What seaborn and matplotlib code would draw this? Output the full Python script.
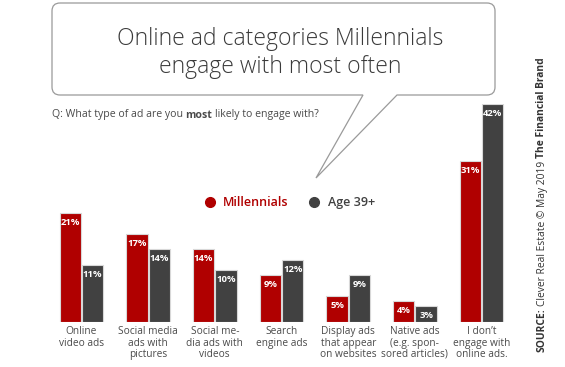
import matplotlib
matplotlib.use("Agg")
import matplotlib.pyplot as plt
import seaborn as sns
import pandas as pd
from matplotlib.path import Path
from matplotlib.patches import PathPatch
from matplotlib.lines import Line2D

categories = ["Online\nvideo ads", "Social media\nads with\npictures",
              "Social me-\ndia ads with\nvideos", "Search\nengine ads",
              "Display ads\nthat appear\non websites",
              "Native ads\n(e.g. spon-\nsored articles)",
              "I don\u2019t\nengage with\nonline ads."]
millennials = [21, 17, 14, 9, 5, 4, 31]
age39 = [11, 14, 10, 12, 9, 3, 42]
groups = ["Millennials", "Age 39+"]

RED = "#b00000"
DARK = "#414141"
GREY = "#4a4a4a"

df = pd.DataFrame({
    "category": categories * 2,
    "group": [groups[0]] * len(categories) + [groups[1]] * len(categories),
    "value": millennials + age39,
})

sns.set_theme(style="white")
plt.rcParams["font.family"] = ["Open Sans", "DejaVu Sans"]

W, H = 565, 367
fig = plt.figure(figsize=(W / 100, H / 100), dpi=100)

# overlay axes in pixel coordinates for the speech bubble and texts
ov = fig.add_axes([0, 0, 1, 1])
ov.set_xlim(0, W)
ov.set_ylim(H, 0)
ov.axis("off")

# main bar axes placed in pixel terms
ax = fig.add_axes([48 / W, 45 / H, 467 / W, 218 / H])
ax.set_facecolor("none")
sns.barplot(data=df, x="category", y="value", hue="group", ax=ax,
            palette=[RED, DARK], width=0.67, gap=0.05, legend=False,
            edgecolor="#d8d8d8", linewidth=0.8, saturation=1)
ax.set_ylim(0, 42)
ax.set_xlim(-0.5, len(categories) - 0.5)
ax.set_xlabel("")
ax.set_ylabel("")
ax.set_yticks([])
sns.despine(ax=ax, left=True, bottom=True)
ax.tick_params(axis="x", length=0, pad=3, labelsize=7.3, labelcolor=GREY)
for t in ax.get_xticklabels():
    t.set_linespacing(1.05)

for cont in ax.containers:
    ax.bar_label(cont, labels=[f"{int(v)}%" for v in cont.datavalues],
                 padding=-10, color="white", fontsize=6.8, fontweight="bold")

handles = [Line2D([], [], marker="o", ls="", color=RED, markersize=7),
           Line2D([], [], marker="o", ls="", color=DARK, markersize=7)]
fig.legend(handles, groups, loc="center", bbox_to_anchor=(286 / W, 1 - 203 / H),
           ncol=2, frameon=False, handletextpad=0.1,
           columnspacing=1.0, labelcolor=[RED, DARK],
           prop={"weight": "semibold", "size": 9})

L, R, T, B, r = 52, 495, 3, 95, 8
verts = [(L + r, T), (R - r, T), (R, T), (R, T + r), (R, B - r), (R, B), (R - r, B),
         (397, B), (316, 178), (363, B),
         (L + r, B), (L, B), (L, B - r), (L, T + r), (L, T), (L + r, T)]
codes = [Path.MOVETO, Path.LINETO, Path.CURVE3, Path.CURVE3, Path.LINETO, Path.CURVE3,
         Path.CURVE3, Path.LINETO, Path.LINETO, Path.LINETO,
         Path.LINETO, Path.CURVE3, Path.CURVE3, Path.LINETO, Path.CURVE3, Path.CURVE3]
ov.add_patch(PathPatch(Path(verts, codes), facecolor="white", edgecolor="#9a9a9a", lw=0.9))

ov.text(280, 53, "Online ad categories Millennials\nengage with most often",
        ha="center", va="center", fontsize=16.5, fontweight="light",
        color="#3a3a3a", linespacing=1.2)

# question line with bold word
q1 = ov.text(52, 115, "Q: What type of ad are you", ha="left", va="center",
             fontsize=7.6, color=GREY)
fig.canvas.draw()
rend = fig.canvas.get_renderer()
inv = ov.transData.inverted()


def right_edge(t):
    bb = t.get_window_extent(rend)
    return inv.transform((bb.x1, bb.y0))[0]


q2 = ov.text(right_edge(q1) + 2.5, 115, "most", ha="left", va="center",
             fontsize=7.6, color=GREY, fontweight="bold")
ov.text(right_edge(q2) + 2.5, 115, "likely to engage with?", ha="left", va="center",
        fontsize=7.6, color=GREY)

# vertical source line
s1 = ov.text(542, 352, "SOURCE:", rotation=90, ha="center", va="bottom",
             fontsize=7.4, color="#333333", fontweight="bold")


def top_edge(t):
    bb = t.get_window_extent(rend)
    return inv.transform((bb.x0, bb.y1))[1]


s2 = ov.text(542, top_edge(s1) - 2.5, "Clever Real Estate \u00a9 May 2019", rotation=90,
             ha="center", va="bottom", fontsize=7.4, color="#333333")
ov.text(542, top_edge(s2) - 2.5, "The Financial Brand", rotation=90, ha="center",
        va="bottom", fontsize=7.4, color="#333333", fontweight="bold")

fig.savefig("out.png", dpi=100, facecolor="white")
